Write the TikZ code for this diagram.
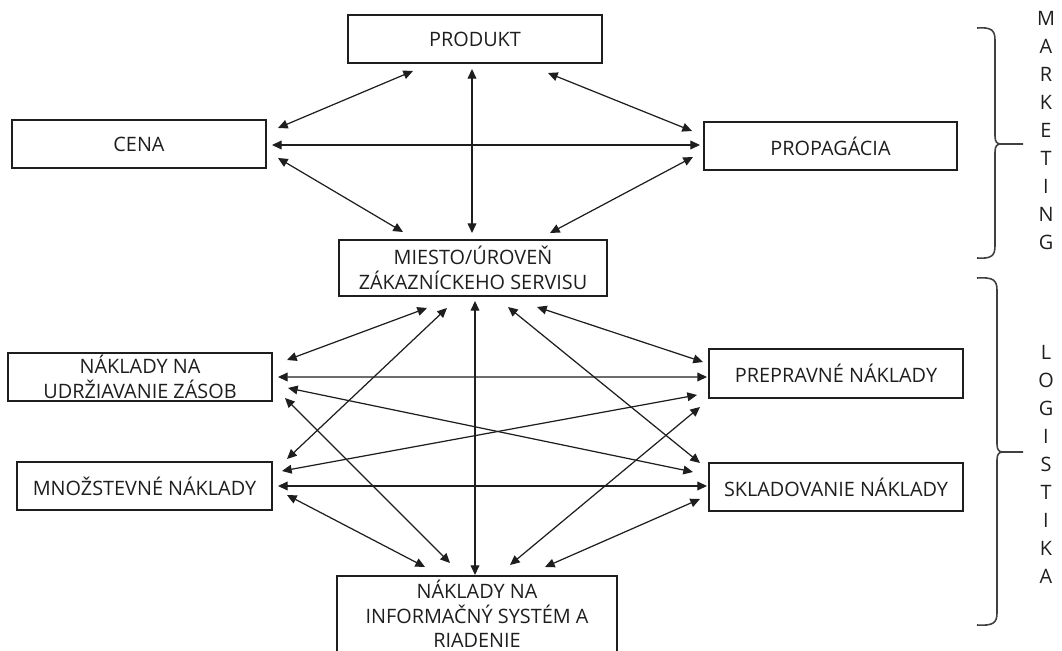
\documentclass[tikz,border=0pt]{standalone}
\usepackage{fontspec}
\setmainfont{Open Sans}
\usetikzlibrary{arrows.meta,calc}
\definecolor{InkGray}{RGB}{30,30,30}
\newcommand{\boxfont}{\fontsize{11.3}{14.6}\selectfont\lineskiplimit=-6pt\relax}
\newcommand{\infofont}{\fontsize{11.3}{14}\selectfont\lineskiplimit=-6pt\relax}

\begin{document}
\begin{tikzpicture}[x=0.02cm,y=-0.02cm,
    every node/.style={font=\boxfont,text=InkGray},
    box/.style={draw=InkGray,line width=0.8pt,align=center,inner sep=0pt},
    link/.style={{Triangle[length=5.5pt,width=5pt]}-{Triangle[length=5.5pt,width=5pt]},
                 line width=0.7pt,draw=InkGray},
    brace/.style={draw=black!75,line width=0.9pt}]
  \useasboundingbox (0,0) rectangle (1062,651);

  % marketing mix
  \node[box,minimum width=5.08cm,minimum height=0.96cm] (produkt) at (475,39) {PRODUKT};
  \node[box,minimum width=5.08cm,minimum height=0.96cm] (cena) at (139,144) {CENA};
  \node[box,minimum width=5.06cm,minimum height=0.96cm] (propag) at (830.5,146) {PROPAGÁCIA};
  \node[box,minimum width=5.36cm,minimum height=1.12cm] (miesto) at (473,268)
    {MIESTO/ÚROVEŇ\\ZÁKAZNÍCKEHO SERVISU};

  % logistic costs
  \node[box,minimum width=5.28cm,minimum height=0.96cm] (udrz) at (140,377)
    {NÁKLADY NA\\UDRŽIAVANIE ZÁSOB};
  \node[box,minimum width=5.10cm,minimum height=0.96cm] (mnoz) at (144.5,486) {MNOŽSTEVNÉ NÁKLADY};
  \node[box,minimum width=5.08cm,minimum height=0.98cm] (prep) at (836,373.5) {PREPRAVNÉ NÁKLADY};
  \node[box,minimum width=5.08cm,minimum height=0.96cm] (sklad) at (836,487) {SKLADOVANIE NÁKLADY};
  \node[box,minimum width=5.60cm,minimum height=1.52cm,font=\infofont] (info) at (477,614)
    {NÁKLADY NA\\INFORMAČNÝ SYSTÉM A\\RIADENIE};

  \draw[link] ($(cena)+(139,-16)$) -- ($(produkt)+(-62,32)$);
  \draw[link] ($(produkt)+(-3,30)$) -- ($(miesto)+(-1,-35)$);
  \draw[link] ($(produkt)+(73,34)$) -- ($(propag)+(-138.5,-15)$);
  \draw[link] ($(cena)+(133,1)$) -- ($(propag)+(-130.5,-1)$);
  \draw[link] ($(cena)+(139,14)$) -- ($(miesto)+(-70,-36)$);
  \draw[link] ($(propag)+(-137.5,11)$) -- ($(miesto)+(77,-35)$);

  \draw[link] ($(miesto)+(-46,40)$) -- ($(udrz)+(147,-17)$);
  \draw[link] ($(miesto)+(-26,40)$) -- ($(mnoz)+(142.5,-27)$);
  \draw[link] ($(miesto)+(2,33)$) -- ($(info)+(-2,-39)$);
  \draw[link] ($(miesto)+(35,39)$) -- ($(sklad)+(-136,-24)$);
  \draw[link] ($(miesto)+(64,39)$) -- ($(prep)+(-133,-11.5)$);
  \draw[link] ($(udrz)+(138,0)$) -- ($(prep)+(-129,3.5)$);
  \draw[link] ($(udrz)+(148,11)$) -- ($(sklad)+(-143,-15)$);
  \draw[link] ($(udrz)+(145,21)$) -- ($(info)+(-27,-51)$);
  \draw[link] ($(mnoz)+(137.5,-15)$) -- ($(prep)+(-139,21.5)$);
  \draw[link] ($(mnoz)+(133.5,0)$) -- ($(sklad)+(-129,-1)$);
  \draw[link] ($(mnoz)+(142.5,9)$) -- ($(info)+(-52,-47)$);
  \draw[link] ($(prep)+(-136,33.5)$) -- ($(info)+(33,-49)$);
  \draw[link] ($(sklad)+(-136,12)$) -- ($(info)+(68,-47)$);

  % braces
  \draw[brace] (977,28) .. controls (991,27) and (995,30) .. (995,40) -- (995,136)
    .. controls (995,142) and (997,144) .. (1001,144) -- (1023,144);
  \draw[brace] (977,258) .. controls (991,259) and (995,256) .. (995,246) -- (995,152)
    .. controls (995,146) and (997,144) .. (1001,144);
  \draw[brace] (977,278) .. controls (993,277) and (997,280) .. (997,290) -- (997,444)
    .. controls (997,450) and (999,452) .. (1003,452) -- (1023,452);
  \draw[brace] (977,625) .. controls (993,626) and (997,623) .. (997,613) -- (997,460)
    .. controls (997,454) and (999,452) .. (1003,452);

  \foreach \ch [count=\i from 0] in {M,A,R,K,E,T,I,N,G}
    \node (mk\i) at (1046,18+28*\i) {\ch};
  \foreach \ch [count=\i from 0] in {L,O,G,I,S,T,I,K,A}
    \node (lg\i) at (1046,352+28*\i) {\ch};
\end{tikzpicture}
\end{document}
